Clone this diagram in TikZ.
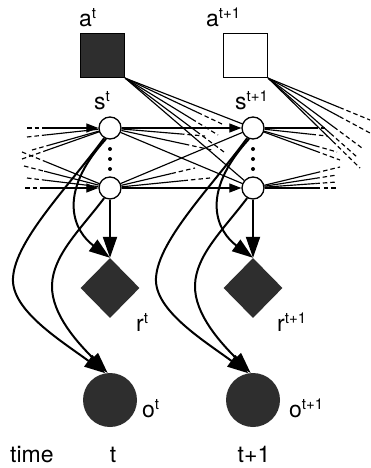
\documentclass[tikz,border=0pt]{standalone}
\usepackage{fontspec}
\setmainfont{TeX Gyre Heros}
\usetikzlibrary{shapes.geometric,arrows.meta,calc}
\definecolor{dk}{HTML}{2E2E2E}
\newcommand{\sups}[2]{#1\raisebox{8pt}{\fontsize{15}{15}\selectfont #2}}
\newcommand{\fanout}[4][]{\path (#2) -- coordinate[pos=#4] (fm) (#3);
  \draw[fan,#1] (#2) -- (fm); \draw[fan,dsh] (fm) -- (#3);}
\newcommand{\fanin}[4][]{\path (#2) -- coordinate[pos=#4] (fm) (#3);
  \draw[fan,dsh] (#2) -- (fm); \draw[fan,#1] (fm) -- (#3);}
\begin{document}
\begin{tikzpicture}[x=1pt,y=-1pt,
  fan/.style={line width=1.15pt},
  dsh/.style={dash pattern=on 4.5pt off 3pt},
  curve/.style={line width=2pt},
  smalltip/.style={-{Triangle[length=12pt,width=9pt]}},
  bigtip/.style={-{Triangle[length=21pt,width=14pt]}},
  sq/.style={draw, line width=1.3pt, minimum size=44pt, inner sep=0pt},
  hid/.style={circle, draw, line width=1.3pt, fill=white, minimum size=22pt, inner sep=0pt},
  rw/.style={diamond, fill=dk, minimum width=59pt, minimum height=60pt, inner sep=0pt},
  ob/.style={circle, fill=dk, minimum size=54pt, inner sep=0pt},
  lbl/.style={font=\fontsize{23}{27}\selectfont, inner sep=0pt, anchor=base west}]
\fill[white, use as bounding box] (0,0) rectangle (370,468);

% nodes
\node[sq, fill=dk] (at1) at (102.5,55.5) {};
\node[sq, fill=white] (at2) at (245.5,55.5) {};
\node[hid] (st1) at (110,128) {};
\node[hid] (sb1) at (110,188) {};
\node[hid] (st2) at (253,128) {};
\node[hid] (sb2) at (253,188) {};
\node[rw] (rt1) at (110,288) {};
\node[rw] (rt2) at (253,288) {};
\node[ob] (ot1) at (110,400) {};
\node[ob] (ot2) at (253,400) {};

% labels
\node[lbl] (la1) at (79,27) {\sups{a}{t}};
\node[lbl] (la2) at (206,27) {\sups{a}{t+1}};
\node[lbl] (ls1) at (94,110) {\sups{s}{t}};
\node[lbl] (ls2) at (235,110) {\sups{s}{t+1}};
\node[lbl] (lr1) at (136,331) {\sups{r}{t}};
\node[lbl] (lr2) at (277,331) {\sups{r}{t+1}};
\node[lbl] (lo1) at (142,417) {\sups{o}{t}};
\node[lbl] (lo2) at (289,417) {\sups{o}{t+1}};
\node[lbl] (ltime) at (10,462) {time};
\node[lbl, anchor=base] (lt1) at (113,462) {t};
\node[lbl, anchor=base] (lt2) at (254,462) {t+1};

% free ends
\coordinate (L1) at (27,128);
\coordinate (L2) at (27,137);
\coordinate (L3) at (32,150);
\coordinate (L4) at (22,159);
\coordinate (L5) at (22,152);
\coordinate (L6) at (24,166);
\coordinate (L7) at (27,178);
\coordinate (L8) at (25,188);
\coordinate (M1) at (222,124);
\coordinate (M2) at (218,135);
\coordinate (M3) at (224,152);
\coordinate (M4) at (205,136);
\coordinate (M5) at (212,150);
\coordinate (M6) at (195,168);
\coordinate (M7) at (210,178);
\coordinate (R1) at (327,128);
\coordinate (R2) at (327,136);
\coordinate (R3) at (337,152);
\coordinate (R4) at (340,160);
\coordinate (R5) at (340,167);
\coordinate (R6) at (337,175);
\coordinate (R7) at (337,182);
\coordinate (R8) at (338,188);
\coordinate (R9) at (370,120);
\coordinate (R10) at (370,133);
\coordinate (R11) at (362,148);
\coordinate (R12) at (357,157);
\coordinate (R13) at (360,168);

% incoming from the left
\fanin[smalltip]{L1}{st1}{0.27}
\fanin{L2}{st1}{0.27}
\fanin{L3}{st1}{0.25}
\fanin{L4}{st1}{0.3}
\fanin{L5}{sb1}{0.3}
\fanin{L6}{sb1}{0.27}
\fanin{L7}{sb1}{0.27}
\fanin[smalltip]{L8}{sb1}{0.27}

% between slices
\draw[fan,smalltip] (st1) -- (st2);
\draw[fan,smalltip] (sb1) -- (sb2);
\draw[fan] (st1) -- (sb2);
\draw[fan] (sb1) -- (st2);
\draw[fan] (at1.south east) -- (st2);
\draw[fan] (at1.south east) -- (sb2);
\fanout{at1.south east}{M1}{0.75}
\fanout{at1.south east}{M2}{0.72}
\fanout{at1.south east}{M3}{0.72}
\fanout{st1}{M4}{0.7}
\fanout{st1}{M5}{0.7}
\fanout{sb1}{M6}{0.68}
\fanout{sb1}{M7}{0.7}

% outgoing to the right
\fanout{st2}{R1}{0.78}
\fanout{st2}{R2}{0.75}
\fanout{st2}{R3}{0.7}
\fanout{st2}{R4}{0.68}
\fanout{sb2}{R5}{0.68}
\fanout{sb2}{R6}{0.7}
\fanout{sb2}{R7}{0.7}
\fanout{sb2}{R8}{0.7}
\fanout{at2.south east}{R9}{0.7}
\fanout{at2.south east}{R10}{0.7}
\fanout{at2.south east}{R11}{0.7}
\fanout{at2.south east}{R12}{0.7}
\fanout{at2.south east}{R13}{0.7}

% within each slice
\foreach \i/\dx in {1/0,2/143}{
  \begin{scope}[xshift=\dx pt]
    \draw[curve,bigtip] (st\i.250) .. controls (55,195) and (75,232) .. (rt\i.north);
    \draw[curve,bigtip] (sb\i.south) -- (rt\i.north);
    \draw[curve,bigtip] (st\i.240) .. controls (70,185) and (15,240) .. (13,278)
       .. controls (11,310) and (60,340) .. (ot\i.100);
    \draw[curve,bigtip] (sb\i.240) .. controls (80,230) and (53,255) .. (52,285)
       .. controls (51,315) and (80,345) .. (ot\i.95);
    \fill (110,149) circle (2pt) (110,159) circle (2pt) (110,169) circle (2pt);
  \end{scope}}
\end{tikzpicture}
\end{document}
